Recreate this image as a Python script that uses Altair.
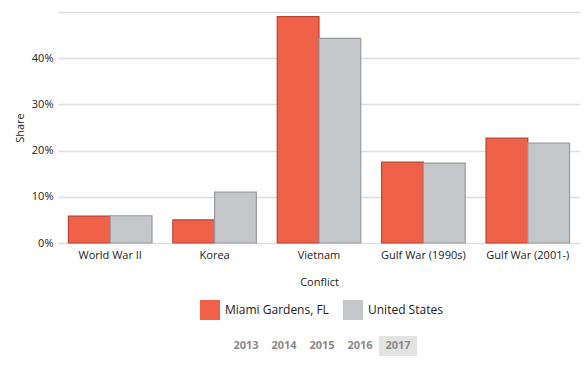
import altair as alt
import pandas as pd

conflicts = ["World War II", "Korea", "Vietnam", "Gulf War (1990s)", "Gulf War (2001-)"]
places = ["Miami Gardens, FL", "United States"]
miami = [0.058, 0.050, 0.490, 0.175, 0.227]
usa = [0.059, 0.110, 0.443, 0.173, 0.216]
years = [2013, 2014, 2015, 2016, 2017]
selected_year = 2017

rows = []
for c, m, u in zip(conflicts, miami, usa):
    rows.append({"Conflict": c, "Place": places[0], "Share": m})
    rows.append({"Conflict": c, "Place": places[1], "Share": u})
df = pd.DataFrame(rows)

FONT = "Open Sans"

color = alt.Color(
    "Place:N",
    scale=alt.Scale(domain=places, range=["#EF6249", "#C5C6CA"]),
    legend=alt.Legend(
        orient="none", legendX=142, legendY=288, title=None, symbolType="square",
        symbolSize=400, symbolStrokeWidth=0, labelFontSize=12, labelFont=FONT,
        labelColor="#222", columnPadding=14, labelOffset=5, direction="horizontal",
    ),
)
stroke = alt.Stroke(
    "Place:N",
    scale=alt.Scale(domain=places, range=["#B9432F", "#9A9A9E"]),
    legend=None,
)

bars = alt.Chart(df).mark_bar(strokeWidth=1.2).encode(
    x=alt.X("Conflict:N", sort=conflicts, title="Conflict",
            scale=alt.Scale(paddingInner=0.2, paddingOuter=0.1),
            axis=alt.Axis(labelAngle=0, domain=False, ticks=False, labelFont=FONT,
                          labelFontSize=11, labelColor="#222", titleFont=FONT,
                          titleFontSize=11, titleFontWeight="normal", titleColor="#222",
                          labelPadding=6, titlePadding=16)),
    xOffset=alt.XOffset("Place:N", sort=places),
    y=alt.Y("Share:Q", title="Share",
            scale=alt.Scale(domain=[0, 0.5], nice=False),
            axis=alt.Axis(format=".0%", values=[0, 0.1, 0.2, 0.3, 0.4, 0.5],
                          labelExpr="datum.value >= 0.5 ? '' : datum.label",
                          domain=False, ticks=False, gridColor="#DEDEDE", gridWidth=1.5,
                          labelFont=FONT, labelFontSize=11, labelColor="#222",
                          titleFont=FONT, titleFontSize=11, titleFontWeight="normal",
                          titleColor="#222", labelPadding=5, titlePadding=6)),
    color=color,
    stroke=stroke,
).properties(width=522, height=231)

ydf = pd.DataFrame({"year": years, "sel": [y == selected_year for y in years]})
ydf["x1"] = ydf["year"] - 0.5
ydf["x2"] = ydf["year"] + 0.5
xs = alt.Scale(domain=[2008.05, 2021.79], nice=False, zero=False)
hl = alt.Chart(ydf).transform_filter("datum.sel").mark_rect(color="#E3E3E3").encode(
    x=alt.X("x1:Q", scale=xs, axis=None), x2="x2:Q",
)
ytxt = alt.Chart(ydf).mark_text(font=FONT, fontSize=11, fontWeight="bold", color="#8A8A8A").encode(
    x=alt.X("year:Q", scale=xs, axis=None),
    text=alt.Text("year:Q", format="d"),
)
yearbar = alt.layer(hl, ytxt).properties(width=522, height=20)

chart = alt.vconcat(bars, yearbar, spacing=49).properties(
    padding={"left": 6, "top": 4, "right": 0, "bottom": 0}
).configure(font=FONT).configure_view(stroke="transparent", strokeWidth=0)
chart.save("out.html", embed_options={"renderer": "svg", "actions": False})
